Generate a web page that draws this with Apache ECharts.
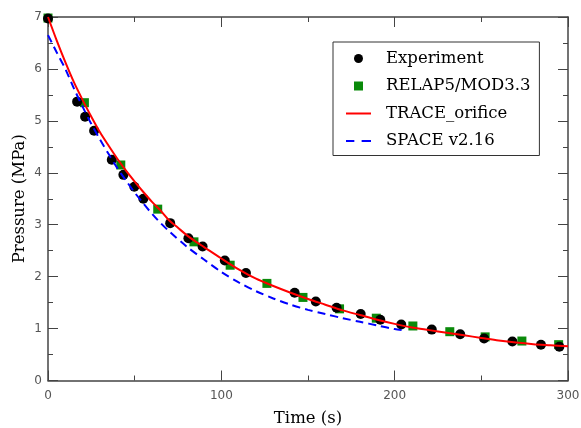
<!DOCTYPE html>
<html>
<head>
<meta charset="utf-8">
<script src="https://cdn.jsdelivr.net/npm/echarts@6/dist/echarts.min.js"></script>
<style>html,body{margin:0;padding:0;background:#fff;}#c{width:581px;height:428px;}</style>
</head>
<body>
<div id="c"></div>
<script>
// Experiment (time s, pressure MPa)
const expTime = [0, 16.8, 21.4, 26.6, 36.8, 43.5, 49.8, 55.0, 70.5, 81.0, 89.2, 102.0, 114.2, 142.3, 154.5, 166.5, 180.4, 191.7, 203.8, 221.4, 237.8, 251.6, 267.9, 284.4, 295.0];
const expP    = [6.97, 5.37, 5.08, 4.81, 4.25, 3.96, 3.73, 3.50, 3.03, 2.74, 2.58, 2.31, 2.07, 1.69, 1.52, 1.40, 1.28, 1.17, 1.08, 0.98, 0.89, 0.81, 0.75, 0.69, 0.65];
// RELAP5/MOD3.3
const relTime = [0, 21.0, 42.0, 63.3, 84.2, 105.1, 126.3, 147.1, 168.2, 189.4, 210.5, 231.8, 252.2, 273.4, 294.6];
const relP    = [6.98, 5.35, 4.15, 3.30, 2.67, 2.22, 1.87, 1.60, 1.38, 1.20, 1.05, 0.94, 0.84, 0.76, 0.69];
// TRACE_orifice
const traceTime = [0, 5, 10, 15, 20, 25, 30, 35, 40, 45, 50, 55, 60, 65, 70, 75, 80, 85, 90, 100, 110, 120, 130, 140, 150, 160, 170, 180, 190, 200, 210, 220, 230, 240, 250, 260, 270, 280, 290, 300];
const traceP    = [7.00, 6.55, 6.13, 5.74, 5.40, 5.08, 4.78, 4.52, 4.27, 4.04, 3.83, 3.63, 3.44, 3.27, 3.08, 2.94, 2.80, 2.68, 2.57, 2.35, 2.14, 1.96, 1.82, 1.69, 1.57, 1.46, 1.35, 1.26, 1.17, 1.09, 1.02, 0.97, 0.92, 0.87, 0.82, 0.77, 0.73, 0.70, 0.68, 0.66];
// SPACE v2.16
const spaceTime = [0, 5, 10, 15, 20, 25, 30, 35, 40, 45, 50, 55, 60, 65, 70, 80, 90, 100, 110, 120, 130, 140, 150, 160, 170, 180, 190, 200, 204];
const spaceP    = [6.65, 6.32, 6.00, 5.62, 5.27, 4.94, 4.64, 4.36, 4.09, 3.85, 3.62, 3.41, 3.21, 3.03, 2.87, 2.58, 2.33, 2.09, 1.89, 1.72, 1.58, 1.46, 1.36, 1.28, 1.20, 1.13, 1.06, 0.99, 0.97];

const xTicks = [0, 100, 200, 300];
const yTicks = [0, 1, 2, 3, 4, 5, 6, 7];

const zip = (a, b) => a.map((v, i) => [v, b[i]]);

const axisCol = '#444';
const tickLabel = {color: '#555', fontFamily: 'DejaVu Sans', fontSize: 12};
const serif = 'DejaVu Serif';

function xAx(pos, show) {
  return {
    type: 'value', position: pos, min: xTicks[0], max: xTicks[xTicks.length-1], interval: xTicks[1]-xTicks[0],
    axisLine: {show: true, onZero: false, lineStyle: {color: axisCol, width: 1.5}},
    axisTick: {show: true, inside: true, length: 10, lineStyle: {color: axisCol, width: 1}},
    minorTick: {show: true, splitNumber: 2, length: 5, lineStyle: {color: axisCol, width: 1}},
    splitLine: {show: false},
    axisLabel: Object.assign({show: show, margin: 9}, tickLabel),
    name: show ? 'Time (s)' : '', nameLocation: 'middle', nameGap: 30, nameMoveOverlap: false,
    nameTextStyle: {fontFamily: serif, fontSize: 16.5, color: '#000'}
  };
}
function yAx(pos, show) {
  return {
    type: 'value', position: pos, min: yTicks[0], max: yTicks[yTicks.length-1], interval: yTicks[1]-yTicks[0],
    axisLine: {show: true, onZero: false, lineStyle: {color: axisCol, width: 1.5}},
    axisTick: {show: true, inside: true, length: 10, lineStyle: {color: axisCol, width: 1}},
    minorTick: {show: true, splitNumber: 2, length: 5, lineStyle: {color: axisCol, width: 1}},
    splitLine: {show: false},
    axisLabel: Object.assign({show: show, margin: 6}, tickLabel),
    name: show ? 'Pressure (MPa)' : '', nameLocation: 'middle', nameGap: 20, nameMoveOverlap: false,
    nameTextStyle: {fontFamily: serif, fontSize: 16.5, color: '#000'}
  };
}

const chart = echarts.init(document.getElementById('c'), null, {renderer: 'canvas'});
chart.setOption({
  animation: false,
  backgroundColor: '#fff',
  grid: {left: 48, right: 13, top: 17, bottom: 47.5, containLabel: false, outerBoundsMode: 'none'},
  xAxis: [xAx('bottom', true), xAx('top', false)],
  yAxis: [yAx('left', true), yAx('right', false)],
  legend: {
    orient: 'vertical', left: 333, top: 42,
    backgroundColor: '#fff', borderColor: '#333', borderWidth: 1, borderRadius: 0,
    padding: [8, 9, 6, 13],
    itemWidth: 25, itemHeight: 9, itemGap: 10.5,
    symbolKeepAspect: true,
    textStyle: {fontFamily: serif, fontSize: 16.5, color: '#000', padding: [0,0,0,10]},
    data: [
      {name: 'Experiment', icon: 'circle'},
      {name: 'RELAP5/MOD3.3', icon: 'path://M0,0h1v1h-1z'},
      {name: 'TRACE_orifice', icon: 'path://M0,0h25v2h-25z', itemStyle: {borderWidth: 0}},
      {name: 'SPACE v2.16', icon: 'path://M0,0h8v2h-8zM15,0h9v2h-9z', itemStyle: {borderWidth: 0}}
    ]
  },
  series: [
    {name: 'RELAP5/MOD3.3', type: 'scatter', symbol: 'rect', symbolSize: 9, z: 2,
     itemStyle: {color: '#0a8a0a', opacity: 1}, data: zip(relTime, relP)},
    {name: 'Experiment', type: 'scatter', symbol: 'circle', symbolSize: 10, z: 3,
     itemStyle: {color: '#000', opacity: 1}, data: zip(expTime, expP)},
    {name: 'TRACE_orifice', type: 'line', showSymbol: false, symbol: 'none', z: 4, smooth: 0.3,
     lineStyle: {color: '#ff0000', width: 2}, itemStyle: {color: '#ff0000'}, data: zip(traceTime, traceP)},
    {name: 'SPACE v2.16', type: 'line', showSymbol: false, symbol: 'none', z: 5, smooth: 0.3,
     lineStyle: {color: '#0000ff', width: 2, type: [8, 5]}, itemStyle: {color: '#0000ff'}, data: zip(spaceTime, spaceP)}
  ]
});
</script>
</body>
</html>
